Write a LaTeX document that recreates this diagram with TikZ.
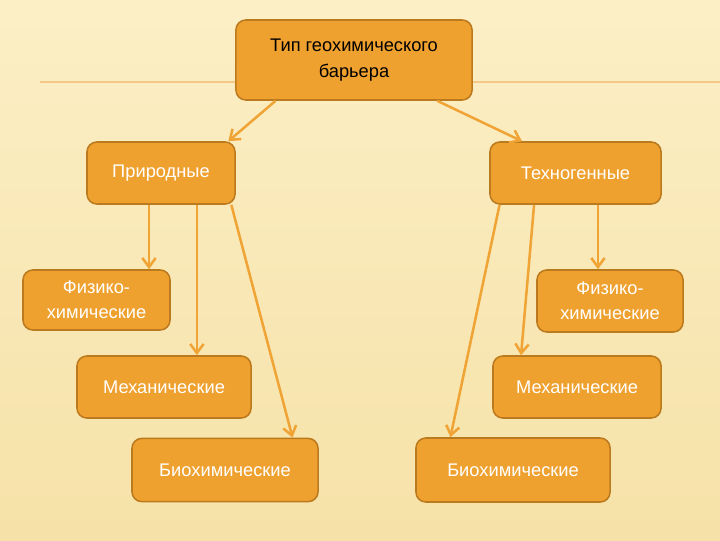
\documentclass[tikz,border=0pt]{standalone}
\usepackage{fontspec}
\setmainfont{Liberation Sans}
\usetikzlibrary{calc,arrows.meta}
\tikzset{>={Straight Barb[length=6.5pt,width=9.5pt]}}
\definecolor{bg}{HTML}{FCEFC6}
\definecolor{bgdark}{HTML}{F6E2A8}
\definecolor{boxfill}{HTML}{EFA12F}
\definecolor{boxline}{HTML}{BC7A1E}
\definecolor{arrcol}{HTML}{F0A436}
\tikzset{
  box/.style={draw=boxline,fill=boxfill,line width=1.1pt,rounded corners=7pt,
    text=white,align=center,font=\fontsize{13}{18}\selectfont},
  arr/.style={->,draw=arrcol,line width=1.8pt}
}

\begin{document}
\begin{tikzpicture}[x=0.025cm,y=-0.025cm]
\useasboundingbox (0,0) rectangle (720,540);
\shade[top color=bg,bottom color=bgdark] (0,0) rectangle (720,540);
\draw[color=arrcol!60,line width=1pt] (40,82) -- (720,82);

\node[box,text=black,minimum width=5.9cm,minimum height=2cm] (tip) at (354,60) {Тип геохимического\\ барьера};
\node[box,minimum width=3.7cm,minimum height=1.55cm] (prir) at (161,173) {Природные};
\node[box,minimum width=4.275cm,minimum height=1.55cm] (tech) at (575.5,173) {Техногенные};
\node[box,minimum width=3.675cm,minimum height=1.5cm] (fiz1) at (96.5,300) {Физико-\\ химические};
\node[box,minimum width=3.65cm,minimum height=1.55cm] (fiz2) at (610,301) {Физико-\\ химические};
\node[box,minimum width=4.35cm,minimum height=1.55cm] (mex1) at (164,387) {Механические};
\node[box,minimum width=4.2cm,minimum height=1.55cm] (mex2) at (577,387) {Механические};
\node[box,minimum width=4.65cm,minimum height=1.58cm] (bio1) at (225,470) {Биохимические};
\node[box,minimum width=4.85cm,minimum height=1.6cm] (bio2) at (513,470) {Биохимические};

% top level
\draw[arr] ($(tip.south west)!0.17!(tip.south east)$) -- ($(prir.north west)!0.95!(prir.north east)$);
\draw[arr] ($(tip.south west)!0.85!(tip.south east)$) -- ($(tech.north west)!0.19!(tech.north east)$);
% natural
\draw[arr] ($(prir.south west)!0.42!(prir.south east)$) coordinate (p1) -- (p1 |- fiz1.north);
\draw[arr] ($(prir.south west)!0.74!(prir.south east)$) coordinate (p2) -- (p2 |- mex1.north);
\draw[arr] ($(prir.south west)!0.97!(prir.south east)$) -- ($(bio1.north west)!0.86!(bio1.north east)$);
% technogenic
\draw[arr] ($(tech.south west)!0.63!(tech.south east)$) coordinate (t1) -- (t1 |- fiz2.north);
\draw[arr] ($(tech.south west)!0.26!(tech.south east)$) -- ($(mex2.north west)!0.17!(mex2.north east)$);
\draw[arr] ($(tech.south west)!0.06!(tech.south east)$) -- ($(bio2.north west)!0.18!(bio2.north east)$);
\end{tikzpicture}
\end{document}
